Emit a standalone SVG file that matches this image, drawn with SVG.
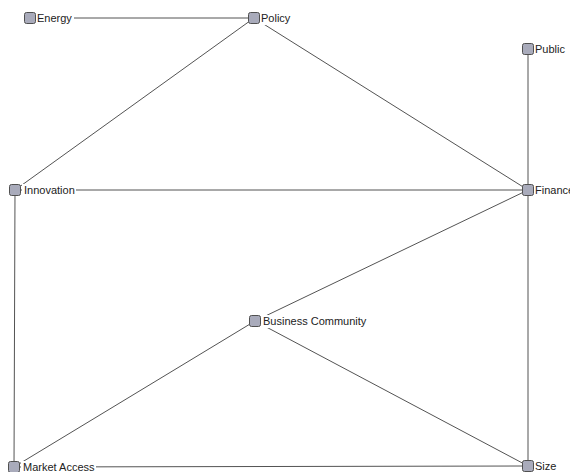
<svg xmlns="http://www.w3.org/2000/svg" width="570" height="472" viewBox="0 0 570 472">
<style>
.n rect.b{fill:#a9abbb;stroke:#505050;stroke-width:1}
.n rect.bg{fill:#fff}
.n text{font-family:"Liberation Sans",Arial,sans-serif;font-size:11px;fill:#222}
#edges line{stroke:#404040;stroke-width:0.9}
</style>
<rect width="570" height="472" fill="#fff"/>
<g id="edges">
<line x1="30" y1="18" x2="254" y2="18"/>
<line x1="254" y1="18" x2="15" y2="190"/>
<line x1="254" y1="18" x2="528" y2="190"/>
<line x1="528" y1="49" x2="528" y2="190"/>
<line x1="15" y1="190" x2="528" y2="190"/>
<line x1="15" y1="190" x2="14" y2="467"/>
<line x1="528" y1="190" x2="255" y2="321"/>
<line x1="528" y1="190" x2="528" y2="466"/>
<line x1="255" y1="321" x2="14" y2="467"/>
<line x1="255" y1="321" x2="528" y2="466"/>
<line x1="14" y1="467" x2="528" y2="466"/>
</g>
<g id="energy" class="n"><rect class="bg" x="36" y="12" width="38" height="13"/><rect class="b" x="24.5" y="12.5" width="11" height="11" rx="2"/><text x="37" y="22">Energy</text></g>
<g id="policy" class="n"><rect class="bg" x="260" y="12" width="31" height="13"/><rect class="b" x="248.5" y="12.5" width="11" height="11" rx="2"/><text x="261" y="22">Policy</text></g>
<g id="public" class="n"><rect class="bg" x="534" y="43" width="31" height="13"/><rect class="b" x="522.5" y="43.5" width="11" height="11" rx="2"/><text x="535" y="53">Public</text></g>
<g id="innovation" class="n"><rect class="bg" x="22" y="184" width="54" height="13"/><rect class="b" x="9.5" y="184.5" width="11" height="11" rx="2"/><text x="24" y="194">Innovation</text></g>
<g id="finance" class="n"><rect class="bg" x="534" y="184" width="36" height="13"/><rect class="b" x="522.5" y="184.5" width="11" height="11" rx="2"/><text x="535" y="194">Finance</text></g>
<g id="business" class="n"><rect class="bg" x="261" y="315" width="106" height="13"/><rect class="b" x="249.5" y="315.5" width="11" height="11" rx="2"/><text x="263" y="325">Business Community</text></g>
<g id="market" class="n"><rect class="bg" x="21" y="461" width="75" height="11"/><rect class="b" x="8.5" y="461.5" width="11" height="11" rx="2"/><text x="23" y="471">Market Access</text></g>
<g id="size" class="n"><rect class="bg" x="534" y="460" width="24" height="12"/><rect class="b" x="522.5" y="460.5" width="11" height="11" rx="2"/><text x="535" y="470">Size</text></g>
</svg>
